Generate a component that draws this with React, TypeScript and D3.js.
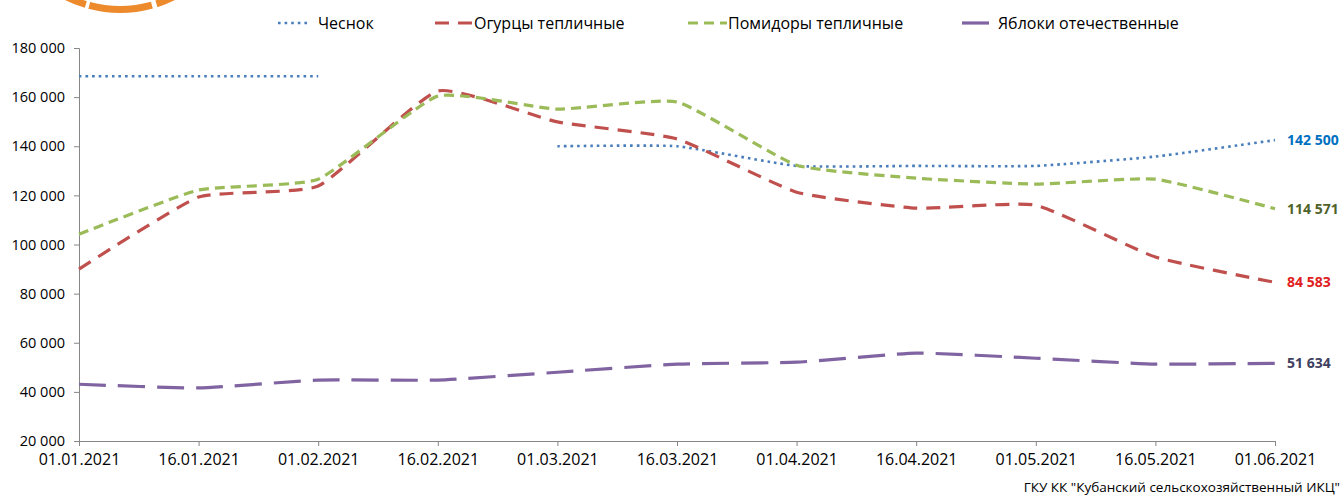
import * as d3 from "d3";
import * as React from "react";

const dates = ["01.01.2021", "16.01.2021", "01.02.2021", "16.02.2021", "01.03.2021", "16.03.2021",
  "01.04.2021", "16.04.2021", "01.05.2021", "16.05.2021", "01.06.2021"];

const garlic = [168500, 168500, 168500, null, 140000, 140000, 132000, 132000, 132000, 135800, 142500];
const cucumbers = [90000, 119300, 123800, 162500, 149900, 143000, 121300, 114800, 116000, 94900, 84583];
const tomatoes = [104200, 122200, 126600, 160400, 155100, 158000, 132300, 127000, 124600, 126600, 114571];
const apples = [43100, 41600, 44800, 44800, 48000, 51300, 52100, 55800, 53700, 51300, 51634];

const yTicks = [20000, 40000, 60000, 80000, 100000, 120000, 140000, 160000, 180000];

const series = [
  { name: "Чеснок", values: garlic, color: "#4A7EBB", dash: "2.6 4", width: 2.6, label: "#0070C0" },
  { name: "Огурцы тепличные", values: cucumbers, color: "#C0504D", dash: "14 9", width: 3.2, label: "#E02020" },
  { name: "Помидоры тепличные", values: tomatoes, color: "#9BBB59", dash: "10 6", width: 3.2, label: "#4F6228" },
  { name: "Яблоки отечественные", values: apples, color: "#8064A2", dash: "27 12", width: 3.2, label: "#404060" },
];

const FONT = "'Open Sans', 'Noto Sans', sans-serif";

export default function App() {
  const width = 1343, height = 500;
  const marginLeft = 79, marginRight = 68, marginTop = 48, marginBottom = 59;
  const innerWidth = width - marginLeft - marginRight;
  const innerHeight = height - marginTop - marginBottom;

  const x = d3.scalePoint<number>().domain(dates.map((_, i) => i)).range([0, innerWidth]);
  const y = d3.scaleLinear().domain([20000, 180000]).range([innerHeight, 0]);
  const fmt = (v: number) => d3.format(",")(v).replace(/,/g, " ");

  // excel-like smoothing, softer than catmull-rom
  const line = d3.line<number | null>()
    .defined((d) => d !== null)
    .x((_, i) => x(i) as number)
    .y((d) => y(d as number))
    .curve(d3.curveCardinal.tension(0.55));

  const axisLeft = d3.axisLeft(y).tickValues(yTicks).tickSize(5).tickFormat((d) => fmt(d as number));
  const axisBottom = d3.axisBottom(x).tickSize(5).tickFormat((i) => dates[i as number]);

  const styleAxis = (g: any) => {
    g.select(".domain").attr("stroke", "#868686");
    g.selectAll(".tick line").attr("stroke", "#868686");
    g.selectAll(".tick text").attr("fill", "#000").style("font-family", FONT);
  };

  // logo pieces at the top, cut off by the page edge
  const arc = d3.arc<any>().innerRadius(116).outerRadius(123);
  const logoParts = [
    [Math.PI + 0.29, Math.PI + 0.47],
    [Math.PI - 0.27, Math.PI + 0.26],
    [Math.PI - 0.47, Math.PI - 0.31],
  ];

  const legendX = [278, 435, 688, 962];
  const legendText = [318, 474, 728, 998];

  return (
    <svg width={width} height={height} style={{ position: "absolute", left: 0, top: 0, background: "#fff" }}>
      <g transform="translate(120,-110)">
        {logoParts.map((p, i) => (
          <path key={"logo" + i} d={arc({ startAngle: p[0], endAngle: p[1] }) as string} fill="#EC8A2C" />
        ))}
      </g>

      {series.map((s, i) => (
        <g key={"leg" + i}>
          <line x1={legendX[i]} x2={legendText[i] - (i === 0 ? 8 : 1)} y1={23} y2={23}
            stroke={s.color} strokeWidth={s.width} strokeDasharray={s.dash} />
          <text x={legendText[i]} y={29} fontFamily={FONT} fontSize={16} fill="#000">{s.name}</text>
        </g>
      ))}

      <g transform={"translate(" + marginLeft + "," + marginTop + ")"}>
        <g ref={(g) => { if (g) d3.select(g).call(axisLeft).call(styleAxis).selectAll(".tick text").style("font-size", "14.5px").attr("x", -14); }} />
        <g ref={(g) => { if (g) d3.select(g).call(axisBottom).call(styleAxis).selectAll(".tick text").style("font-size", "16px").attr("y", 13); }}
          transform={"translate(0," + innerHeight + ")"} />

        {series.map((s, i) => (
          <path key={"line" + i} d={line(s.values) as string} fill="none" stroke={s.color}
            strokeWidth={s.width} strokeDasharray={s.dash} />
        ))}

        {series.map((s, i) => {
          const last = s.values[s.values.length - 1] as number;
          return (
            <text key={"lab" + i} x={(x(s.values.length - 1) as number) + 12} y={y(last)} dy="0.35em"
              fontFamily={FONT} fontSize={14} fontWeight="bold" fill={s.label}>{fmt(last)}</text>
          );
        })}
      </g>

      <text x={1340} y={492} textAnchor="end" fontFamily={FONT} fontSize={13.5} fill="#000">
        ГКУ КК "Кубанский сельскохозяйственный ИКЦ"
      </text>
    </svg>
  );
}
